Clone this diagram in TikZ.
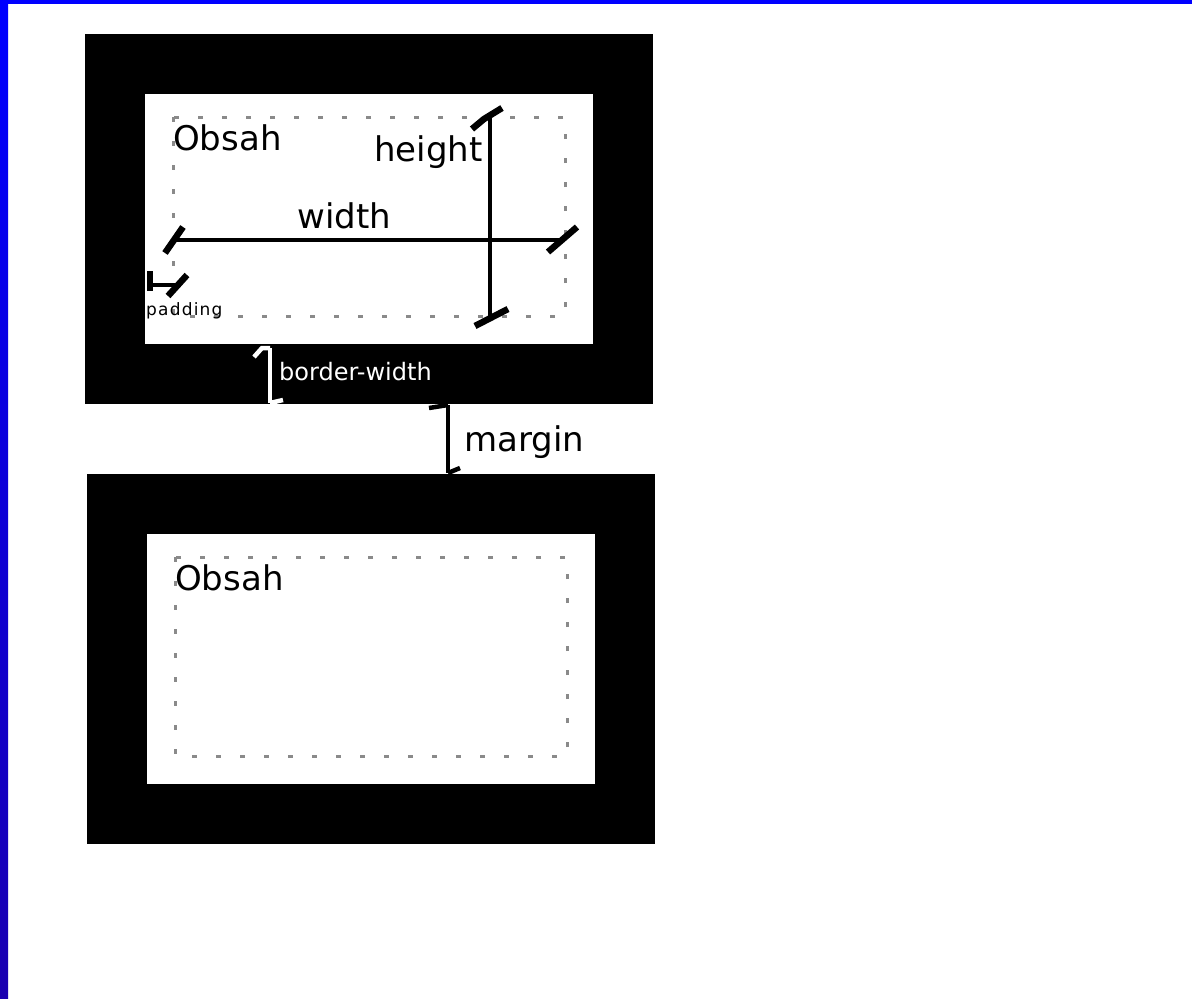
\documentclass[tikz,border=0pt]{standalone}
\usepackage{fontspec}
\setmainfont{DejaVu Sans}
\definecolor{bandtop}{RGB}{0,0,255}
\definecolor{bandbot}{RGB}{26,0,176}
\definecolor{dotgray}{RGB}{138,138,138}
\tikzset{
  dimline/.style={line width=4.8pt},
  dimtick/.style={line width=6.5pt},
  lbl/.style={inner sep=0pt, anchor=base west},
  bigtext/.style={font=\fontsize{34}{40}\selectfont},
}
\begin{document}
\begin{tikzpicture}[x=1pt, y=-1pt]
    \useasboundingbox (0,0) rectangle (1192,999);
    \fill[white] (0,0) rectangle (1192,999);

    % frame bands
    \shade[top color=bandtop, bottom color=bandbot] (0,0) rectangle (8,999);
    \fill[bandtop] (0,0) rectangle (1192,4);

    % first box
    \fill[black] (85,34) rectangle (653,404);
    \fill[white] (145,94) rectangle (593,344);
    \draw[dotgray, line width=3pt, dash pattern=on 5pt off 19pt] (173,117) rectangle (565,316);

    % second box
    \fill[black] (87,474) rectangle (655,844);
    \fill[white] (147,534) rectangle (595,784);
    \draw[dotgray, line width=3pt, dash pattern=on 5pt off 19pt] (175,557) rectangle (567,756);

    % labels
    \node[lbl, bigtext] (obsah1) at (173,150) {Obsah};
    \node[lbl, bigtext] (heightlbl) at (374,161) {height};
    \node[lbl, bigtext] (widthlbl) at (297,228) {width};
    \node[lbl, bigtext] (marginlbl) at (464,451) {margin};
    \node[lbl, bigtext] (obsah2) at (175,590) {Obsah};
    \node[lbl, white, font=\fontsize{24}{28}\selectfont] (borderlbl) at (279,380) {border-width};
    \node[lbl, font=\fontsize{17}{20}\selectfont] (paddinglbl) at (146,315)
      {p\kern1.2pt a\kern1.2pt d\kern1.2pt d\kern1.2pt i\kern1.2pt n\kern1.2pt g};

    % width
    \coordinate (wL) at (174,240);
    \coordinate (wR) at (562,240);
    \draw[dimline] (wL) -- (wR);
    \draw[dimtick] (wL) ++(-9,13) -- ++(18,-26);
    \draw[dimtick] (wR) ++(-14,12) -- ++(29,-25);

    % height
    \coordinate (hT) at (490,115);
    \coordinate (hB) at (490,318);
    \draw[dimline] (hT) -- (hB);
    \draw[dimtick] (hT) ++(-18,14) -- ++(12,-10) -- ++(18,-11);
    \draw[dimtick] (hB) ++(-15,8) -- ++(33,-17);

    % padding
    \coordinate (pL) at (149,285);
    \coordinate (pR) at (177,285);
    \draw[dimline] (pL) -- (pR);
    \draw[dimtick] (pL) ++(1,-14) -- ++(0,20);
    \draw[dimtick] (pR) ++(-9,11) -- ++(19,-21);

    % border-width
    \coordinate (bT) at (270,348);
    \coordinate (bB) at (270,403);
    \draw[white, dimline] (bT) -- (bB);
    \draw[white, line width=4.5pt] (bT) -- ++(-8,0) -- ++(-8,9);
    \draw[white, line width=4.5pt] (bB) -- ++(13,-3);

    % margin
    \coordinate (mT) at (448,405);
    \coordinate (mB) at (448,473);
    \draw[dimline] (mT) -- (mB);
    \draw[line width=4.5pt] (mT) -- ++(-19,3);
    \draw[line width=4.5pt] (mB) -- ++(12,-5);
\end{tikzpicture}
\end{document}
